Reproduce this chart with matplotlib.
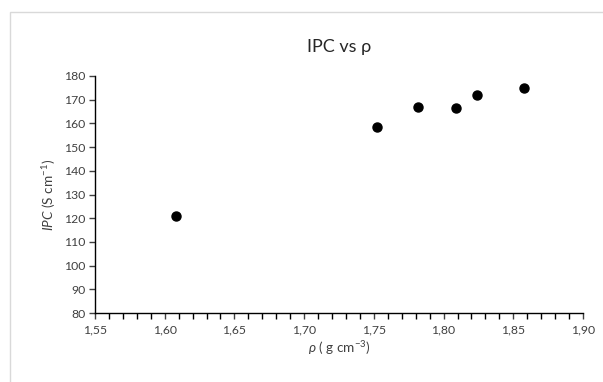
import matplotlib.pyplot as plt
from matplotlib.patches import Rectangle
from matplotlib.ticker import MultipleLocator, FuncFormatter

# data
rho = [1.608, 1.752, 1.782, 1.809, 1.824, 1.858]
ipc = [121.0, 158.3, 167.0, 166.5, 171.8, 175.0]

title = "IPC vs ρ"
x_label = r"$\mathit{ρ}$ ( g cm$^{\mathregular{-3}}$)"
y_label = r"$\mathit{IPC}$ (S cm$^{\mathregular{-1}}$)"

plt.rcParams['font.family'] = ['Lato', 'DejaVu Sans']
plt.rcParams['mathtext.fontset'] = 'custom'
plt.rcParams['mathtext.rm'] = 'Lato'
plt.rcParams['mathtext.it'] = 'Lato:italic'

W, H = 603, 382
fig = plt.figure(figsize=(W / 100, H / 100), dpi=100)

# chart area border (light gray, cut off on right/bottom)
fig.add_artist(Rectangle((10 / W, -0.05), 1.2, 1 - 12 / H + 0.05,
                         transform=fig.transFigure, fill=False,
                         edgecolor='#d9d9d9', linewidth=1))

ax = fig.add_axes([95 / W, 1 - 313 / H, (583 - 95) / W, (313 - 76) / H])
ax.plot(rho, ipc, 'o', color='black', markersize=6.5)

ax.set_xlim(1.55, 1.90)
ax.set_ylim(80, 180)
ax.xaxis.set_major_locator(MultipleLocator(0.05))
ax.xaxis.set_minor_locator(MultipleLocator(0.01))
ax.yaxis.set_major_locator(MultipleLocator(10))
ax.xaxis.set_major_formatter(FuncFormatter(lambda v, p: f"{v:.2f}".replace('.', ',')))

for s in ['top', 'right']:
    ax.spines[s].set_visible(False)
for s in ['left', 'bottom']:
    ax.spines[s].set_linewidth(1.0)
    ax.spines[s].set_color('black')

ax.tick_params(which='both', direction='out', length=4, width=1, color='black')
ax.tick_params(labelsize=8.8, colors='#404040', pad=3)
ax.tick_params(axis='x', pad=4)

ax.set_xlabel(x_label, fontsize=9.8, color='#404040', labelpad=3)
ax.set_ylabel(y_label, fontsize=9.8, color='#404040', labelpad=4)
fig.text((95 + 583) / 2 / W, 1 - 47 / H, title, ha='center', va='center',
         fontsize=13, color='#262626')

fig.savefig('out.png', dpi=100, facecolor='white')
